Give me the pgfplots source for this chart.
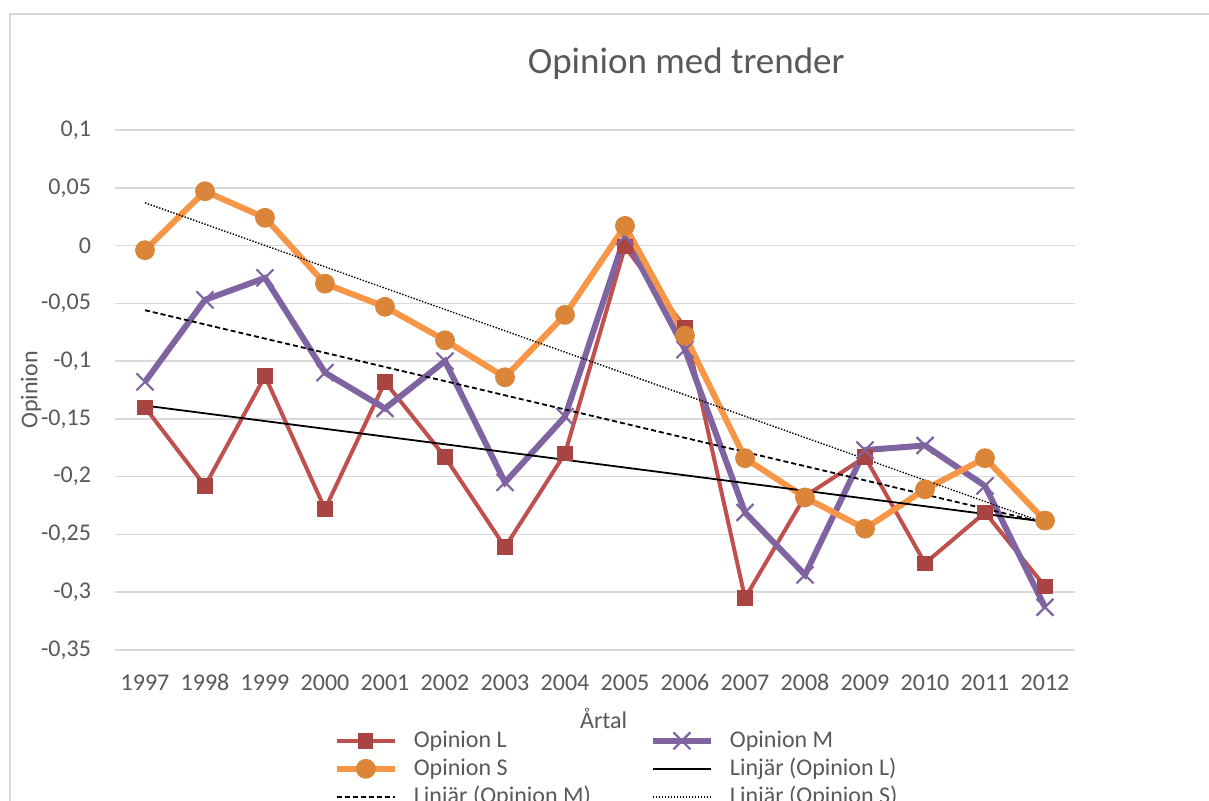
\documentclass[border=0pt]{standalone}
\usepackage{pgfplots}
\pgfplotsset{compat=1.18}
\usepackage{fontspec}
\setmainfont{Carlito}
\definecolor{txt}{HTML}{595959}
\definecolor{grd}{HTML}{D9D9D9}
\definecolor{redL}{HTML}{C0504D}
\definecolor{redM}{HTML}{A84542}
\definecolor{purp}{HTML}{8064A2}
\definecolor{oraL}{HTML}{F79646}
\definecolor{oraM}{HTML}{DB8539}
\begin{document}
\begin{tikzpicture}
\useasboundingbox (0,0) rectangle (604.5pt,400.5pt);
\clip (0,0) rectangle (604.5pt,400.5pt);
\fill[white] (0,0) rectangle (604.5pt,400.5pt);
\draw[grd, line width=0.75pt] (5pt,-5pt) -- (5pt,393.5pt) -- (620pt,393.5pt);
\begin{axis}[
  at={(57.5pt,75.5pt)}, anchor=south west,
  scale only axis, width=480pt, height=260pt,
  xmin=1996.5, xmax=2012.5, ymin=-0.35, ymax=0.1,
  xtick={1997,1998,1999,2000,2001,2002,2003,2004,2005,2006,2007,2008,2009,2010,2011,2012},
  ytick={-0.35,-0.3,-0.25,-0.2,-0.15,-0.1,-0.05,0,0.05,0.1},
  axis line style={draw=none},
  major tick length=0pt,
  ymajorgrids, grid style={grd, line width=0.75pt},
  /pgf/number format/assume math mode=true,
  xticklabel style={font=\fontsize{12}{14}\selectfont, text=txt, /pgf/number format/1000 sep={}, text height=8pt, text depth=0pt, yshift=-8.5pt},
  yticklabel style={font=\fontsize{12}{14}\selectfont, text=txt, /pgf/number format/use comma, /pgf/number format/fixed, /pgf/number format/precision=2, xshift=-8.5pt},
  xlabel={Årtal}, ylabel={Opinion},
  xlabel style={at={(axis description cs:0.509,-0.132)}, anchor=center, font=\fontsize{12}{14}\selectfont, text=txt},
  ylabel style={at={(axis description cs:-0.0875,0.5)}, anchor=center, font=\fontsize{12}{14}\selectfont, text=txt},
  title={Opinion med trender},
  title style={at={(axis description cs:0.595,1.104)}, anchor=center, font=\fontsize{18.5}{22}\selectfont, text=txt},
  legend columns=2,
  legend cell align=left,
  legend style={at={(axis description cs:0.2275,-0.147)}, anchor=north west, draw=none, fill=none,
    inner xsep=0pt, inner ysep=0pt, row sep=0pt,
    font=\fontsize{12}{14}\selectfont, text=txt,
    nodes={inner xsep=8pt, inner ysep=1pt, text height=9.3pt, text depth=2.7pt},
    /tikz/every even column/.append style={column sep=21.5pt}},
  legend image code/.code={\draw[#1, mark repeat=2, mark phase=2] plot coordinates {(0pt,0pt)(14.5pt,0pt)(29pt,0pt)};},
]
\addplot[color=redL, line width=2pt, mark=square*, mark size=3.6pt, mark options={fill=redM, draw=redM, line width=0.5pt}] coordinates {
(1997,-0.140) (1998,-0.208) (1999,-0.113) (2000,-0.228) (2001,-0.118) (2002,-0.183) (2003,-0.261) (2004,-0.180)
(2005,-0.001) (2006,-0.071) (2007,-0.305) (2008,-0.217) (2009,-0.183) (2010,-0.275) (2011,-0.231) (2012,-0.295)};
\addlegendentry{Opinion L}
\addplot[color=purp, line width=3pt, mark=x, mark size=6pt, mark options={line width=1.1pt}] coordinates {
(1997,-0.118) (1998,-0.047) (1999,-0.028) (2000,-0.110) (2001,-0.141) (2002,-0.100) (2003,-0.205) (2004,-0.148)
(2005,0.008) (2006,-0.090) (2007,-0.231) (2008,-0.285) (2009,-0.177) (2010,-0.173) (2011,-0.208) (2012,-0.313)};
\addlegendentry{Opinion M}
\addplot[color=oraL, line width=3pt, mark=*, mark size=4.7pt, mark options={fill=oraM, draw=oraM, line width=0.5pt}] coordinates {
(1997,-0.004) (1998,0.047) (1999,0.024) (2000,-0.033) (2001,-0.053) (2002,-0.082) (2003,-0.114) (2004,-0.060)
(2005,0.017) (2006,-0.078) (2007,-0.184) (2008,-0.218) (2009,-0.245) (2010,-0.211) (2011,-0.184) (2012,-0.238)};
\addlegendentry{Opinion S}
\addplot[black, line width=0.9pt] coordinates {(1997,-0.1385) (2012,-0.239)};
\addlegendentry{Linjär (Opinion L)}
\addplot[black, line width=0.9pt, dash pattern=on 2.5pt off 1.5pt] coordinates {(1997,-0.056) (2012,-0.240)};
\addlegendentry{Linjär (Opinion M)}
\addplot[black, line width=0.7pt, dash pattern=on 0.7pt off 0.8pt] coordinates {(1997,0.037) (2012,-0.240)};
\addlegendentry{Linjär (Opinion S)}
\end{axis}
\end{tikzpicture}
\end{document}
